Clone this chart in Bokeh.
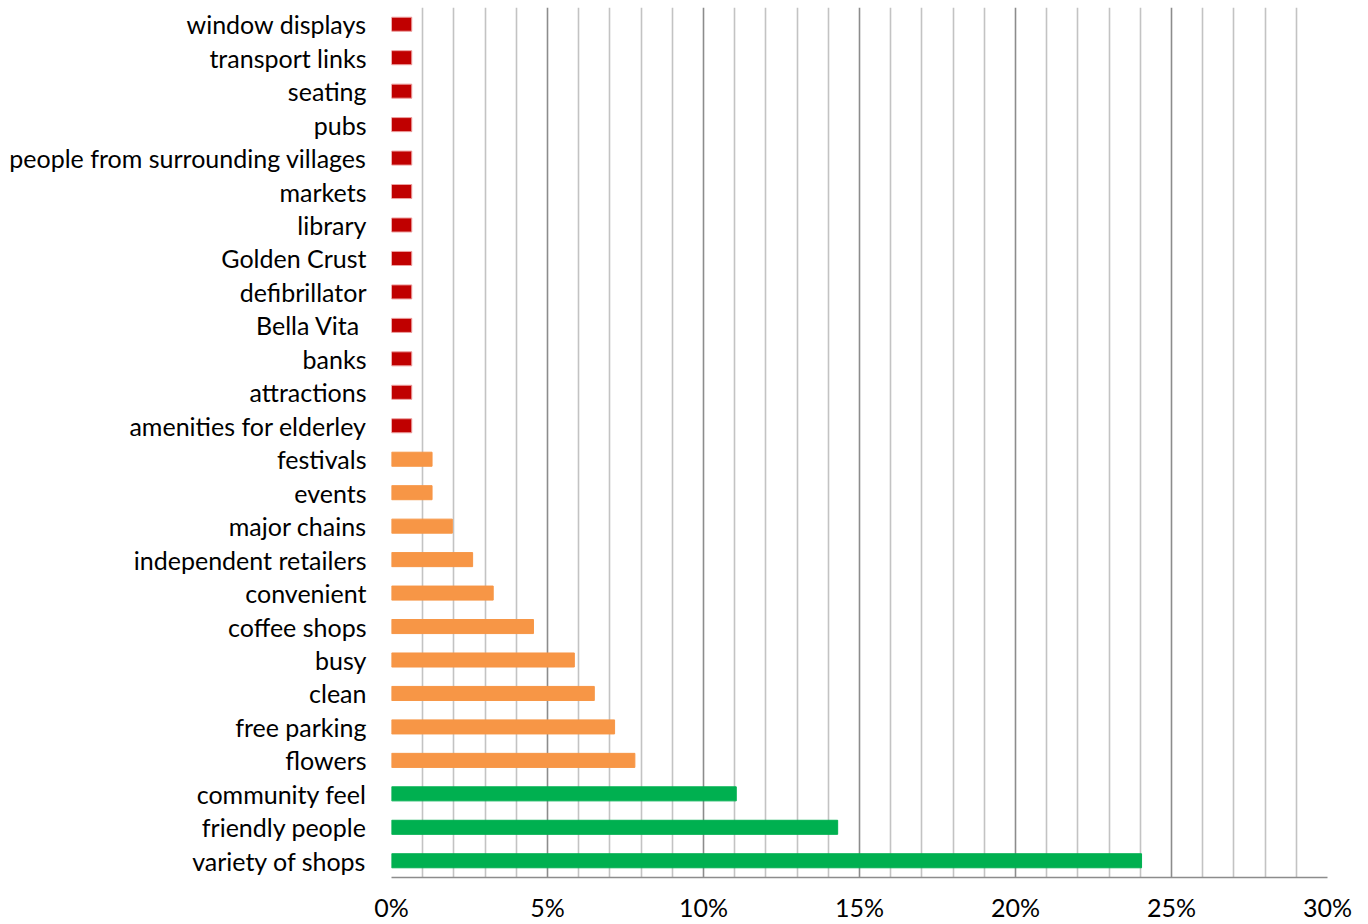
from bokeh.plotting import figure
from bokeh.models import FactorRange, FixedTicker, NumeralTickFormatter, ColumnDataSource, Range1d
from bokeh.embed import file_html
from bokeh.resources import INLINE

categories = [
    "window displays", "transport links", "seating", "pubs",
    "people from surrounding villages", "markets", "library", "Golden Crust",
    "defibrillator", "Bella Vita ", "banks", "attractions", "amenities for elderley",
    "festivals", "events", "major chains", "independent retailers", "convenient",
    "coffee shops", "busy", "clean", "free parking", "flowers",
    "community feel", "friendly people", "variety of shops",
]
values = [
    0.0065, 0.0065, 0.0065, 0.0065, 0.0065, 0.0065, 0.0065, 0.0065,
    0.0065, 0.0065, 0.0065, 0.0065, 0.0065,
    0.013, 0.013, 0.0195, 0.026, 0.0326,
    0.0455, 0.0586, 0.065, 0.0715, 0.078,
    0.1105, 0.143, 0.2404,
]
groups = ["low"] * 13 + ["mid"] * 10 + ["high"] * 3
group_colors = {"low": "#C00000", "mid": "#F79646", "high": "#00B050"}
group_lines = {"low": "#EDA0A0", "mid": "#F79646", "high": "#00B050"}
tick_values = [0, 0.05, 0.10, 0.15, 0.20, 0.25, 0.30]
minor_values = [i / 100 for i in range(31) if i % 5 != 0]

src = ColumnDataSource(dict(
    cat=categories,
    val=values,
    color=[group_colors[g] for g in groups],
    lc=[group_lines[g] for g in groups],
))

p = figure(
    y_range=FactorRange(factors=list(reversed(categories)), range_padding=0),
    x_range=Range1d(0, 0.30),
    width=1360, height=924,
    output_backend="svg", toolbar_location=None,
    min_border_left=391, min_border_right=33, min_border_top=7, min_border_bottom=40,
)
p.hbar(y="cat", right="val", left=0, height=0.42, fill_color="color", line_color="lc",
       line_width=1, source=src)

p.outline_line_color = None
p.background_fill_color = "white"

p.xgrid.ticker = FixedTicker(ticks=tick_values, minor_ticks=minor_values)
p.xgrid.grid_line_color = "#8C8C8C"
p.xgrid.grid_line_width = 1.6
p.xgrid.minor_grid_line_color = "#C3C3C3"
p.xgrid.minor_grid_line_width = 1.6
p.ygrid.grid_line_color = None

p.xaxis.ticker = FixedTicker(ticks=tick_values)
p.xaxis.formatter = NumeralTickFormatter(format="0%")
p.xaxis.axis_line_color = "#8C8C8C"
p.xaxis.axis_line_width = 1.6
p.xaxis.major_tick_line_color = None
p.xaxis.minor_tick_line_color = None
p.xaxis.major_label_standoff = 8
p.xaxis.major_label_text_font = "Lato"
p.xaxis.major_label_text_font_size = "25px"
p.xaxis.major_label_text_color = "black"

p.yaxis.axis_line_color = None
p.yaxis.major_tick_line_color = None
p.yaxis.minor_tick_line_color = None
p.yaxis.major_label_standoff = 19
p.yaxis.major_label_text_font = "Lato"
p.yaxis.major_label_text_font_size = "25px"
p.yaxis.major_label_text_color = "black"

open("out.html", "w").write(file_html(p, INLINE))
